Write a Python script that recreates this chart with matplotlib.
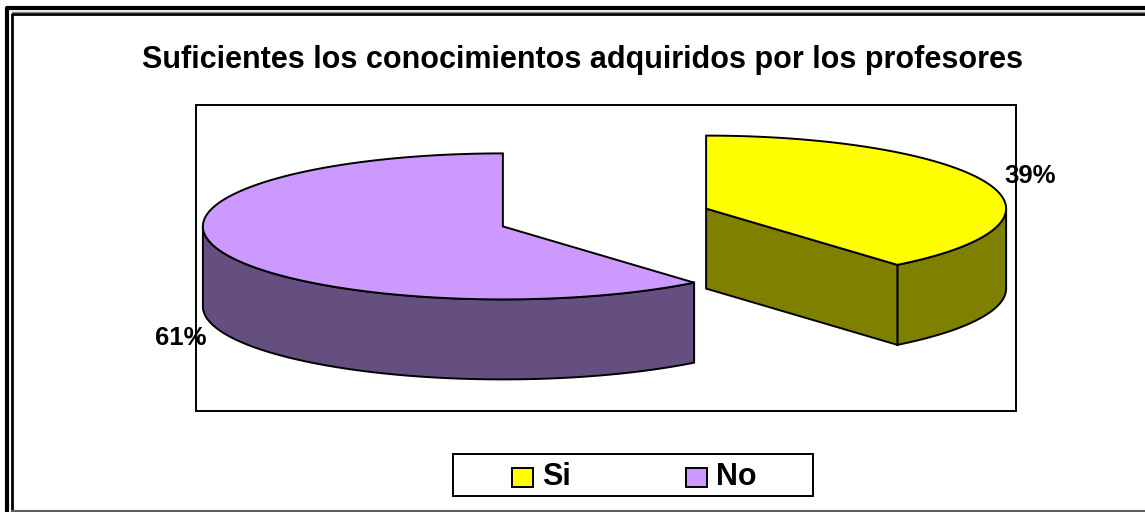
import numpy as np
import matplotlib.pyplot as plt
from matplotlib.patches import Polygon, Rectangle

plt.rcParams['font.family'] = ['Liberation Sans', 'DejaVu Sans']

title = 'Suficientes los conocimientos adquiridos por los profesores'
labels = ['Si', 'No']
values = [39, 61]
pct_labels = ['39%', '61%']
top_colors = ['#FFFF00', '#CC99FF']
side_colors = ['#808000', '#654F80']

# 3d pie geometry (pixels)
cx, cy = 604.5, 217.5
A, B, D = 300, 73, 80
explode = 0.36

fig = plt.figure(figsize=(11.45, 5.12), dpi=100)
ax = fig.add_axes([0, 0, 1, 1])
ax.set_xlim(0, 1145)
ax.set_ylim(512, 0)
ax.axis('off')


def pt(c, th, dz=0):
    return c[0] + A * np.cos(th), c[1] - B * np.sin(th) + dz


lw = 1.4
total = sum(values)
start = np.pi / 2
slices = []
for i, v in enumerate(values):
    t1 = start - 2 * np.pi * v / total
    t2 = start
    mid = (t1 + t2) / 2
    c = (cx + explode * A * np.cos(mid), cy - explode * B * np.sin(mid))
    slices.append((t1, t2, c))
    start = t1

for i, (t1, t2, c) in enumerate(slices):
    # outer wall, front half only
    ths = np.linspace(t1, t2, 300)
    front = ths[np.sin(ths) <= 0]
    if len(front) > 1:
        top = [pt(c, t) for t in front]
        bot = [pt(c, t, D) for t in front[::-1]]
        ax.add_patch(Polygon(top + bot, closed=True, fc=side_colors[i], ec='black', lw=lw))
    # radial faces facing the viewer
    for t, sgn in ((t1, -1), (t2, 1)):
        ny = sgn * np.cos(t)
        if ny < -1e-6:
            quad = [c, pt(c, t), pt(c, t, D), (c[0], c[1] + D)]
            ax.add_patch(Polygon(quad, closed=True, fc=side_colors[i], ec='black', lw=lw))
    # top face
    arc = [pt(c, t) for t in ths]
    ax.add_patch(Polygon([c] + arc, closed=True, fc=top_colors[i], ec='black', lw=lw))

# plot area box
ax.add_patch(Rectangle((196, 105), 820, 306, fill=False, ec='black', lw=1.4))

# data labels
ax.text(1030, 176, pct_labels[0], fontsize=18.5, fontweight='bold', ha='center', va='center')
ax.text(180.5, 338, pct_labels[1], fontsize=18.5, fontweight='bold', ha='center', va='center')

ax.text(582, 60, title, fontsize=22, fontweight='bold', ha='center', va='center')

# legend
ax.add_patch(Rectangle((453, 454), 360, 42, fill=False, ec='black', lw=1.4))
for x0, lab, col in zip([512, 686], labels, top_colors):
    ax.add_patch(Rectangle((x0, 468), 21, 19, fc=col, ec='black', lw=1.4))
    ax.text(x0 + 30, 477, lab, fontsize=22, fontweight='bold', ha='left', va='center')

# chart frame (double line, cropped on right)
ax.plot([6.5, 6.5, 1145], [512, 8, 8], color='black', lw=3, solid_capstyle='butt')
ax.plot([12, 12, 1145], [511, 14, 14], color='black', lw=2, solid_capstyle='butt')
ax.plot([12, 1145], [11.5, 11.5], color='#808080', lw=1)
ax.plot([12, 1145], [511, 511], color='#606060', lw=1.5)

plt.savefig('out.png', dpi=100)
